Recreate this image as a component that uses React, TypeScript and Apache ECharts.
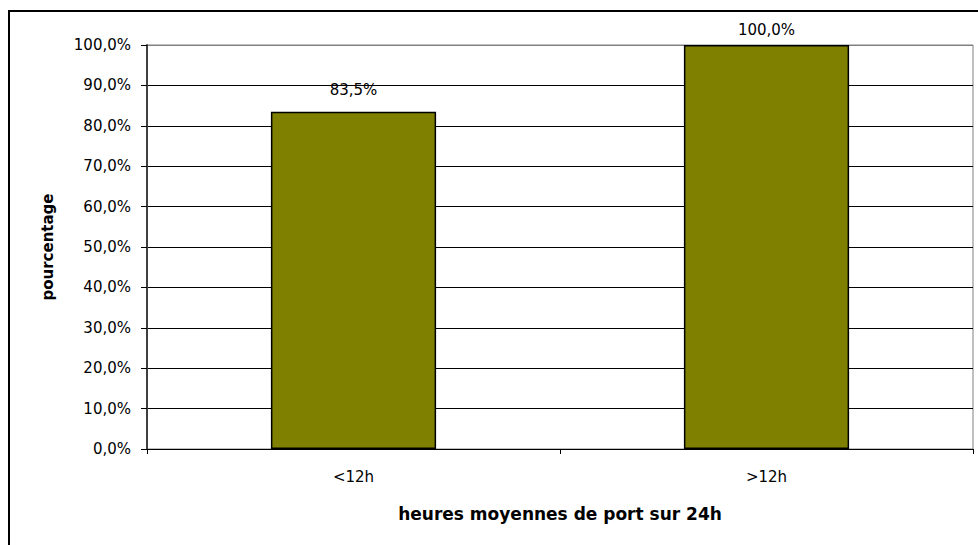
import React, { useEffect, useRef } from "react";
import * as echarts from "echarts";

const categories = ["<12h", ">12h"];
const percentages = [83.5, 100.0];
const labelDistances = [14, 8];
const xAxisTitle = "heures moyennes de port sur 24h";
const yAxisTitle = "pourcentage";

const fmt = (v: number) => v.toFixed(1).replace(".", ",") + "%";

export default function App() {
  const ref = useRef<HTMLDivElement>(null);
  useEffect(() => {
    if (!ref.current) return;
    const chart = echarts.init(ref.current, null, { renderer: "svg" });
    const font = "'DejaVu Sans', sans-serif";
    const splitColors = percentages.length ? [] as string[] : [];
    for (let i = 0; i <= 10; i++) splitColors.push(i === 10 ? "#808080" : "#000000");
    chart.setOption({
      animation: false,
      backgroundColor: "#ffffff",
      graphic: [
        {
          type: "rect",
          shape: { x: 9, y: 11, width: 990, height: 560 },
          style: { fill: "none", stroke: "#000000", lineWidth: 2 },
          z: 100,
          silent: true,
        },
      ],
      grid: {
        left: 147,
        right: 5,
        top: 45,
        bottom: 96,
        show: true,
        borderColor: "#808080",
        borderWidth: 1,
        backgroundColor: "transparent",
      },
      xAxis: {
        type: "category",
        data: categories,
        name: xAxisTitle,
        nameLocation: "middle",
        nameGap: 56,
        nameTextStyle: { fontFamily: font, fontSize: 17, fontWeight: "bold", color: "#000" },
        axisLine: { show: true, lineStyle: { color: "#000000", width: 1 } },
        axisTick: { show: true, length: 5, alignWithLabel: false, lineStyle: { color: "#000" } },
        axisLabel: { fontFamily: font, fontSize: 15, color: "#000", margin: 20 },
        splitLine: { show: false },
      },
      yAxis: {
        type: "value",
        min: 0,
        max: 100,
        interval: 10,
        name: yAxisTitle,
        nameLocation: "middle",
        nameGap: 92,
        nameRotate: 90,
        nameTextStyle: { fontFamily: font, fontSize: 15, fontWeight: "bold", color: "#000" },
        axisLine: { show: true, lineStyle: { color: "#404040", width: 2 } },
        axisTick: { show: true, length: 6, lineStyle: { color: "#000" } },
        axisLabel: { fontFamily: font, fontSize: 15, color: "#000", margin: 16, formatter: (v: number) => fmt(v) },
        splitLine: { show: true, lineStyle: { color: splitColors, width: 1 } },
      },
      series: [
        {
          type: "bar",
          barWidth: "40%",
          data: percentages.map((v, i) => ({
            value: v,
            label: { distance: labelDistances[i] },
          })),
          itemStyle: { color: "#808000", borderColor: "#000000", borderWidth: 1.5 },
          label: {
            show: true,
            position: "top",
            fontFamily: font,
            fontSize: 15,
            color: "#000",
            formatter: (p: any) => fmt(p.value),
          },
        },
      ],
    });
    return () => chart.dispose();
  }, []);
  return (
    <div
      ref={ref}
      style={{ position: "absolute", left: 0, top: 0, width: 978, height: 545 }}
    />
  );
}
